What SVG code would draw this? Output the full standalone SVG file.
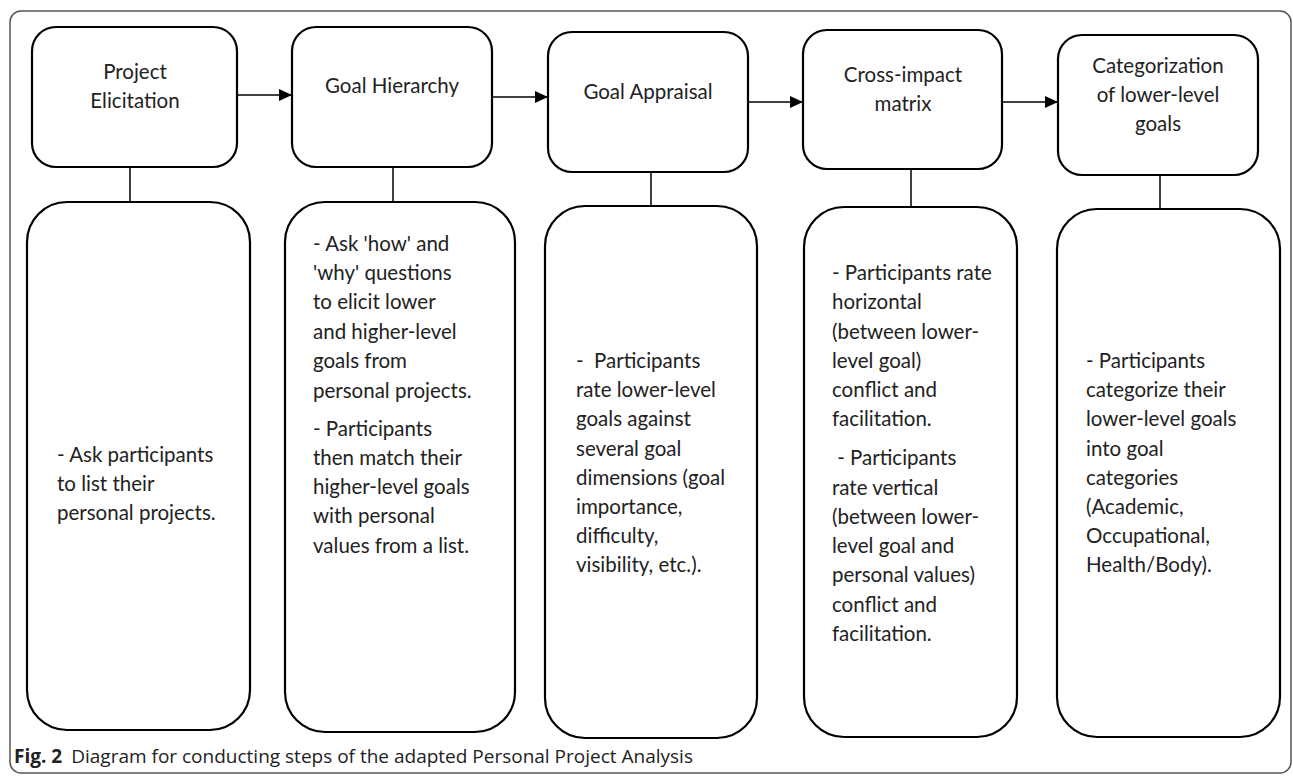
<svg xmlns="http://www.w3.org/2000/svg" width="1293" height="776" viewBox="0 0 1293 776">
<style>
.frame{fill:#fff;stroke:#555;stroke-width:1.5}
.box{fill:#fff;stroke:#000;stroke-width:2.2}
.conn{stroke:#000;stroke-width:1.5;fill:none}
.t{font-family:Lato,"Liberation Sans",sans-serif;font-size:20.5px;fill:#222}
.c{text-anchor:middle}
.cap{font-family:"Open Sans","Liberation Sans",sans-serif;font-size:19px;fill:#222}
</style>
<defs>
<marker id="ah" markerWidth="14" markerHeight="12" refX="13" refY="6" orient="auto" markerUnits="userSpaceOnUse">
<path d="M0,0 L13,6 L0,12 Z" fill="#000"/>
</marker>
</defs>
<rect class="frame" x="10" y="11" width="1281" height="762" rx="11"/>
<g id="connectors">
<line class="conn" x1="237" y1="95" x2="292" y2="95" marker-end="url(#ah)"/>
<line class="conn" x1="492" y1="97" x2="548" y2="97" marker-end="url(#ah)"/>
<line class="conn" x1="748" y1="102" x2="803" y2="102" marker-end="url(#ah)"/>
<line class="conn" x1="1002" y1="102" x2="1058" y2="102" marker-end="url(#ah)"/>
<line class="conn" x1="130" y1="167" x2="130" y2="202"/>
<line class="conn" x1="393" y1="167" x2="393" y2="202"/>
<line class="conn" x1="651" y1="172" x2="651" y2="206"/>
<line class="conn" x1="911" y1="169" x2="911" y2="207"/>
<line class="conn" x1="1160" y1="175" x2="1160" y2="209"/>
</g>
<g id="step1">
<rect class="box" x="32" y="27" width="205" height="140" rx="24"/>
<text class="t c" x="135" y="79">Project</text>
<text class="t c" x="135" y="108">Elicitation</text>
</g>
<g id="step2">
<rect class="box" x="292" y="27" width="200" height="140" rx="24"/>
<text class="t c" x="392" y="93">Goal Hierarchy</text>
</g>
<g id="step3">
<rect class="box" x="548" y="32" width="200" height="140" rx="24"/>
<text class="t c" x="648" y="99">Goal Appraisal</text>
</g>
<g id="step4">
<rect class="box" x="803" y="30" width="199" height="139" rx="24"/>
<text class="t c" x="903" y="82">Cross-impact</text>
<text class="t c" x="903" y="111">matrix</text>
</g>
<g id="step5">
<rect class="box" x="1058" y="35" width="200" height="140" rx="24"/>
<text class="t c" x="1158" y="73">Categorization</text>
<text class="t c" x="1158" y="102">of lower-level</text>
<text class="t c" x="1158" y="131">goals</text>
</g>
<g id="desc1">
<rect class="box" x="27" y="202" width="223" height="528" rx="40"/>
<text class="t" x="57" y="462">- Ask participants</text>
<text class="t" x="57" y="491">to list their</text>
<text class="t" x="57" y="520">personal projects.</text>
</g>
<g id="desc2">
<rect class="box" x="285" y="202" width="230" height="530" rx="40"/>
<text class="t" x="313" y="251">- Ask 'how' and</text>
<text class="t" x="313" y="280">'why' questions</text>
<text class="t" x="313" y="309">to elicit lower</text>
<text class="t" x="313" y="339">and higher-level</text>
<text class="t" x="313" y="368">goals from</text>
<text class="t" x="313" y="398">personal projects.</text>
<text class="t" x="313" y="436">- Participants</text>
<text class="t" x="313" y="465">then match their</text>
<text class="t" x="313" y="494">higher-level goals</text>
<text class="t" x="313" y="523">with personal</text>
<text class="t" x="313" y="553">values from a list.</text>
</g>
<g id="desc3">
<rect class="box" x="545" y="206" width="212" height="532" rx="40"/>
<text class="t" x="576" y="368" xml:space="preserve">-  Participants</text>
<text class="t" x="576" y="397">rate lower-level</text>
<text class="t" x="576" y="426">goals against</text>
<text class="t" x="576" y="456">several goal</text>
<text class="t" x="576" y="485">dimensions (goal</text>
<text class="t" x="576" y="514">importance,</text>
<text class="t" x="576" y="543">difficulty,</text>
<text class="t" x="576" y="572">visibility, etc.).</text>
</g>
<g id="desc4">
<rect class="box" x="804" y="207" width="213" height="530" rx="40"/>
<text class="t" x="832" y="280">- Participants rate</text>
<text class="t" x="832" y="309">horizontal</text>
<text class="t" x="832" y="339">(between lower-</text>
<text class="t" x="832" y="368">level goal)</text>
<text class="t" x="832" y="397">conflict and</text>
<text class="t" x="832" y="426">facilitation.</text>
<text class="t" x="832" y="465" xml:space="preserve"> - Participants</text>
<text class="t" x="832" y="495">rate vertical</text>
<text class="t" x="832" y="524">(between lower-</text>
<text class="t" x="832" y="553">level goal and</text>
<text class="t" x="832" y="582">personal values)</text>
<text class="t" x="832" y="612">conflict and</text>
<text class="t" x="832" y="641">facilitation.</text>
</g>
<g id="desc5">
<rect class="box" x="1057" y="209" width="223" height="528" rx="40"/>
<text class="t" x="1086" y="368">- Participants</text>
<text class="t" x="1086" y="397">categorize their</text>
<text class="t" x="1086" y="426">lower-level goals</text>
<text class="t" x="1086" y="456">into goal</text>
<text class="t" x="1086" y="485">categories</text>
<text class="t" x="1086" y="514">(Academic,</text>
<text class="t" x="1086" y="543">Occupational,</text>
<text class="t" x="1086" y="572">Health/Body).</text>
</g>
<text class="cap" x="14" y="763"><tspan font-weight="bold">Fig. 2</tspan><tspan dx="9">Diagram for conducting steps of the adapted Personal Project Analysis</tspan></text>
</svg>
